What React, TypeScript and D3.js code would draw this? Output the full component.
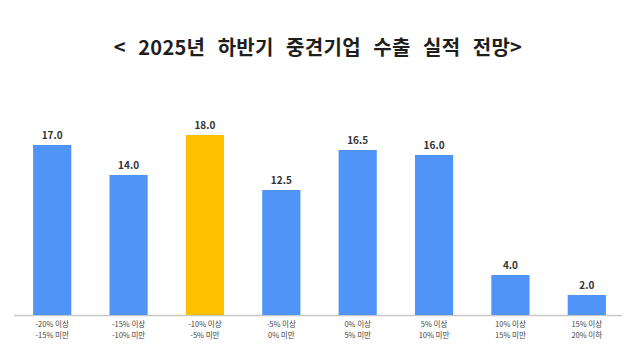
import React, { useEffect, useRef } from 'react';
import * as d3 from 'd3';

const rangesFrom = ['-20% 이상', '-15% 이상', '-10% 이상', '-5% 이상', '0% 이상', '5% 이상', '10% 이상', '15% 이상'];
const rangesTo = ['-15% 미만', '-10% 미만', '-5% 미만', '0% 미만', '5% 미만', '10% 미만', '15% 미만', '20% 이하'];
const shares = [17.0, 14.0, 18.0, 12.5, 16.5, 16.0, 4.0, 2.0];
const highlightIndex = 2;

const title = '< 2025년 하반기 중견기업 수출 실적 전망>';

const width = 640;
const height = 362;

export default function App() {
  const svgRef = useRef<SVGSVGElement>(null);

  useEffect(() => {
    if (!svgRef.current) return;
    const svg = d3.select(svgRef.current);
    svg.selectAll('*').remove();

    const font = "'Noto Sans CJK KR', 'Noto Sans', sans-serif";

    svg.append('rect').attr('width', width).attr('height', height).attr('fill', '#fff');

    // Title
    svg.append('text')
      .attr('x', 318)
      .attr('y', 55)
      .attr('text-anchor', 'middle')
      .attr('font-family', font)
      .attr('font-size', 20)
      .attr('font-weight', 700)
      .attr('word-spacing', 7.5)
      .attr('letter-spacing', 0.3)
      .attr('fill', '#1e1e1e')
      .text(title);

    const idx = d3.range(shares.length).map(String);

    const x = d3.scaleBand<string>()
      .domain(idx)
      .range([14, 625])
      .paddingInner(0.5)
      .paddingOuter(0.25);

    const y = d3.scaleLinear()
      .domain([0, 18])
      .range([315, 135]);

    // Baseline
    svg.append('line')
      .attr('x1', 14)
      .attr('x2', 622)
      .attr('y1', y(0) + 0.5)
      .attr('y2', y(0) + 0.5)
      .attr('stroke', '#c8c8c8')
      .attr('stroke-width', 1.5);

    // Bars
    svg.selectAll('rect.bar')
      .data(shares)
      .enter()
      .append('rect')
      .attr('class', 'bar')
      .attr('x', (d, i) => x(String(i))!)
      .attr('y', d => y(d))
      .attr('width', x.bandwidth())
      .attr('height', d => y(0) - y(d))
      .attr('fill', (d, i) => (i === highlightIndex ? '#ffc000' : '#4f94f6'));

    // Value labels
    svg.selectAll('text.val')
      .data(shares)
      .enter()
      .append('text')
      .attr('class', 'val')
      .attr('x', (d, i) => x(String(i))! + x.bandwidth() / 2)
      .attr('y', d => y(d) - 6)
      .attr('text-anchor', 'middle')
      .attr('font-family', font)
      .attr('font-size', 10)
      .attr('font-weight', 700)
      .attr('fill', '#333')
      .text(d => d.toFixed(1));

    // Category labels (two lines)
    const cats = svg.selectAll('text.cat')
      .data(rangesFrom)
      .enter()
      .append('text')
      .attr('class', 'cat')
      .attr('text-anchor', 'middle')
      .attr('font-family', font)
      .attr('font-size', 7.5)
      .attr('fill', '#444');

    cats.append('tspan')
      .attr('x', (d, i) => x(String(i))! + x.bandwidth() / 2)
      .attr('y', 327)
      .text(d => d);

    cats.append('tspan')
      .attr('x', (d, i) => x(String(i))! + x.bandwidth() / 2)
      .attr('y', 338)
      .text((d, i) => rangesTo[i]);
  }, []);

  return (
    <svg
      ref={svgRef}
      width={width}
      height={height}
      style={{ position: 'absolute', left: 0, top: 0, display: 'block' }}
    />
  );
}
